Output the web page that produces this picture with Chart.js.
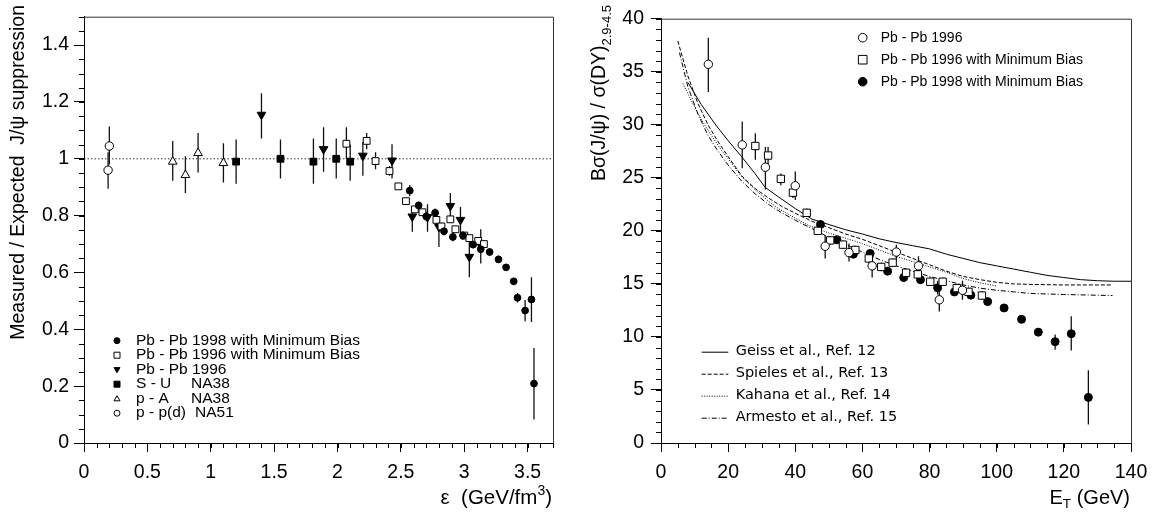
<!DOCTYPE html>
<html>
<head>
<meta charset="utf-8">
<script src="https://cdn.jsdelivr.net/npm/chart.js@4.4.0/dist/chart.umd.min.js"></script>
<style>
  html, body { margin: 0; padding: 0; background: #fff; }
  #wrap { display: flex; width: 1159px; height: 514px; }
  canvas { display: block; }
</style>
</head>
<body>
<div id="wrap">
  <canvas id="left" width="580" height="514"></canvas>
  <canvas id="right" width="579" height="514"></canvas>
</div>
<script>
// ---- left panel: measured / expected vs energy density ----
const ppX = [0.20, 0.19];
const ppY = [1.045, 0.96];
const ppLo = [0.98, 0.895];
const ppHi = [1.114, 1.023];

const pAX = [0.70, 0.80, 0.90, 1.10];
const pAY = [0.99, 0.943, 1.02, 0.985];
const pALo = [0.923, 0.88, 0.952, 0.917];
const pAHi = [1.063, 1.009, 1.091, 1.055];

const suX = [1.20, 1.55, 1.81, 1.99, 2.10];
const suY = [0.99, 1.0, 0.99, 1.0, 0.99];
const suLo = [0.912, 0.931, 0.912, 0.931, 0.923];
const suHi = [1.068, 1.068, 1.071, 1.071, 1.05];

const pb96X = [1.40, 1.89, 2.20, 2.43, 2.59, 2.71, 2.80, 2.89, 2.97, 3.04, 3.13];
const pb96Y = [1.155, 1.034, 1.011, 0.994, 0.797, 0.795, 0.76, 0.834, 0.785, 0.655, 0.695];
const pb96Lo = [1.071, 0.954, 0.94, 0.931, 0.743, 0.743, 0.69, 0.79, 0.725, 0.583, 0.632];
const pb96Hi = [1.231, 1.111, 1.06, 1.051, 0.82, 0.84, 0.79, 0.88, 0.83, 0.723, 0.752];

const mb96X = [2.07, 2.23, 2.30, 2.41, 2.48, 2.54, 2.61, 2.67, 2.78, 2.82, 2.89, 2.93, 3.00, 3.04, 3.11, 3.155];
const mb96Y = [1.053, 1.063, 0.992, 0.957, 0.903, 0.851, 0.822, 0.812, 0.785, 0.762, 0.787, 0.752, 0.73, 0.721, 0.711, 0.70];
const mb96Lo = [1.0, 1.034, 0.963, 0.94, 0.893, 0.841, 0.812, 0.802, 0.765, 0.75, 0.775, 0.742, 0.72, 0.71, 0.70, 0.69];
const mb96Hi = [1.111, 1.091, 1.023, 0.975, 0.913, 0.861, 0.832, 0.822, 0.805, 0.775, 0.80, 0.762, 0.74, 0.73, 0.72, 0.71];

const pb98X = [2.57, 2.64, 2.70, 2.77, 2.84, 2.91, 2.99, 3.07, 3.13, 3.20, 3.27, 3.33, 3.39, 3.42, 3.48, 3.53, 3.55];
const pb98Y = [0.888, 0.836, 0.797, 0.81, 0.745, 0.725, 0.73, 0.698, 0.682, 0.672, 0.646, 0.618, 0.569, 0.511, 0.466, 0.505, 0.209];
const pb98Lo = [0.868, 0.82, 0.78, 0.795, 0.73, 0.71, 0.715, 0.685, 0.67, 0.66, 0.635, 0.605, 0.555, 0.494, 0.428, 0.426, 0.083];
const pb98Hi = [0.908, 0.85, 0.815, 0.825, 0.76, 0.74, 0.745, 0.71, 0.695, 0.685, 0.66, 0.63, 0.58, 0.528, 0.503, 0.583, 0.334];

const refX = [0, 3.7];
const refY = [1, 1];

const leftNames = ["Pb - Pb 1998 with Minimum Bias", "Pb - Pb 1996 with Minimum Bias", "Pb - Pb 1996", "S - U", "p - A", "p - p(d)"];
const leftExp = ["", "", "", "NA38", "NA38", "NA51"];

// ---- right panel: B sigma(J/psi) / sigma(DY) vs E_T ----
const o96X = [14.1, 24.2, 31.1, 40.0, 48.9, 56.0, 62.9, 70.1, 76.7, 82.9, 89.8];
const o96Y = [35.7, 28.1, 26.0, 24.25, 18.55, 17.95, 16.7, 18.0, 16.7, 13.5, 14.4];
const o96Lo = [33.1, 25.9, 23.9, 22.9, 17.4, 17.1, 15.6, 17.2, 15.9, 12.4, 13.5];
const o96Hi = [38.2, 30.3, 27.9, 25.6, 19.6, 18.8, 17.6, 18.7, 17.6, 14.6, 15.3];

const s96X = [28.1, 31.9, 35.7, 39.3, 43.4, 46.7, 50.4, 54.2, 57.9, 61.9, 65.6, 69.0, 73.0, 76.5, 80.2, 83.9, 88.1, 91.6, 95.6];
const s96Y = [28.0, 27.1, 24.9, 23.6, 21.7, 20.0, 19.1, 18.7, 18.2, 17.4, 16.6, 17.0, 16.05, 15.9, 15.2, 15.2, 14.6, 14.25, 13.9];
const s96Lo = [26.7, 26.05, 24.3, 23.1, 21.3, 19.6, 18.7, 18.3, 17.8, 17.0, 16.2, 16.6, 15.65, 15.5, 14.8, 14.8, 14.2, 13.85, 13.5];
const s96Hi = [29.2, 27.9, 25.4, 24.1, 22.1, 20.4, 19.5, 19.1, 18.6, 17.8, 17.0, 17.4, 16.45, 16.3, 15.6, 15.6, 15.0, 14.65, 14.3];

const f98X = [47.5, 52.4, 57.3, 62.3, 67.5, 72.3, 77.3, 82.4, 87.4, 92.3, 97.3, 102.2, 107.4, 112.4, 117.4, 122.2, 127.3];
const f98Y = [20.6, 19.15, 17.8, 17.87, 16.2, 15.6, 15.4, 14.63, 14.24, 13.94, 13.33, 12.73, 11.66, 10.45, 9.55, 10.3, 4.3];
const f98Lo = [20.2, 18.8, 17.45, 17.5, 15.85, 15.25, 15.05, 14.0, 13.9, 13.6, 13.0, 12.4, 11.3, 10.1, 8.78, 8.73, 1.75];
const f98Hi = [21.0, 19.5, 18.15, 18.2, 16.55, 15.95, 15.75, 15.3, 14.6, 14.3, 13.65, 13.05, 12.0, 10.8, 10.24, 11.96, 6.87];

const geissX = [8, 12, 16.5, 20, 24, 28, 31, 35, 40, 45, 50, 55, 60, 65, 70, 75, 80, 85, 90, 95, 100, 105, 110, 115, 120, 125, 130, 135, 140];
const geissY = [34.0, 31.9, 29.9, 28.5, 27.0, 25.4, 24.1, 23.2, 22.1, 21.1, 20.6, 20.1, 19.7, 19.25, 18.9, 18.6, 18.3, 17.8, 17.4, 17.0, 16.7, 16.4, 16.1, 15.8, 15.6, 15.4, 15.3, 15.25, 15.25];

const spielesX = [5, 8, 11, 14, 17, 20, 24, 28, 32, 36, 41, 45, 50, 55, 60, 65, 70, 75, 80, 85, 90, 95, 100, 105, 110, 120, 134.5];
const spielesY = [37.9, 34.6, 32.0, 30.0, 28.4, 27.0, 25.2, 24.0, 23.1, 22.3, 21.5, 20.9, 20.3, 19.7, 19.2, 18.6, 18.0, 17.4, 16.8, 16.2, 15.7, 15.4, 15.15, 15.0, 14.95, 14.9, 14.9];

const kahanaX = [6.5, 9, 12, 15, 18, 21, 24, 28, 32, 35, 40, 44, 50, 55, 60, 65, 70, 75, 80, 85, 90, 95, 100];
const kahanaY = [33.9, 32.3, 30.5, 29.0, 27.6, 26.4, 25.1, 23.9, 22.8, 22.1, 21.2, 20.5, 19.8, 19.3, 18.8, 18.2, 17.6, 17.1, 16.6, 16.1, 15.5, 15.1, 14.8];

const armestoX = [5.5, 8, 11, 14, 17, 20, 24, 28, 32, 36, 40, 45, 50, 55, 60, 65, 70, 75, 80, 85, 90, 95, 100, 105, 110, 120, 134.5];
const armestoY = [36.8, 33.6, 31.0, 29.0, 27.5, 26.2, 24.7, 23.5, 22.5, 21.7, 21.0, 20.2, 19.4, 18.7, 18.0, 17.3, 16.7, 16.2, 15.7, 15.3, 14.9, 14.6, 14.4, 14.25, 14.1, 14.0, 13.9];

const rightMarkerNames = ["Pb - Pb 1996", "Pb - Pb 1996 with Minimum Bias", "Pb - Pb 1998 with Minimum Bias"];
const rightLineNames = ["Geiss et al., Ref. 12", "Spieles et al., Ref. 13", "Kahana et al., Ref. 14", "Armesto et al., Ref. 15"];

const FONT = "'Liberation Sans', Arial, sans-serif";
Chart.defaults.font.family = FONT;
Chart.defaults.color = "#000";
Chart.defaults.animation = false;

function pts(xs, ys) {
  return xs.map((x, i) => ({ x: x, y: ys[i] }));
}

function markers(label, xs, ys, lo, hi, style) {
  return Object.assign({
    label: label,
    data: pts(xs, ys),
    errLo: lo,
    errHi: hi,
    showLine: false,
    pointBorderColor: "#000",
    pointBorderWidth: 1
  }, style);
}

function curve(label, xs, ys, dash) {
  return {
    label: label,
    data: pts(xs, ys),
    showLine: true,
    borderColor: "#000",
    borderWidth: 1,
    borderDash: dash,
    pointRadius: 0,
    fill: false
  };
}

const S_FCIRC = { pointStyle: "circle", pointRadius: 3.6, pointBackgroundColor: "#000" };
const S_OCIRC = { pointStyle: "circle", pointRadius: 4.2, pointBackgroundColor: "#fff" };
const S_OSQ = { pointStyle: "rect", pointRadius: 5.2, pointBackgroundColor: "#fff" };
const S_FSQ = { pointStyle: "rect", pointRadius: 5.2, pointBackgroundColor: "#000" };
const S_OTRI = { pointStyle: "triangle", pointRadius: 5, pointBackgroundColor: "#fff" };
const S_DTRI = { pointStyle: "triangle", pointRotation: 180, pointRadius: 5, pointBackgroundColor: "#000" };

// error bars drawn through the scales, behind the markers
const errorBars = {
  id: "errorBars",
  beforeDatasetsDraw(chart) {
    const ctx = chart.ctx, a = chart.chartArea;
    const sx = chart.scales.x, sy = chart.scales.y;
    ctx.save();
    ctx.beginPath();
    ctx.rect(a.left, a.top, a.right - a.left, a.bottom - a.top);
    ctx.clip();
    ctx.strokeStyle = "#111";
    ctx.lineWidth = 1.3;
    chart.data.datasets.forEach(ds => {
      if (!ds.errLo) return;
      ds.data.forEach((p, i) => {
        const px = sx.getPixelForValue(p.x);
        ctx.beginPath();
        ctx.moveTo(px, sy.getPixelForValue(ds.errLo[i]));
        ctx.lineTo(px, sy.getPixelForValue(ds.errHi[i]));
        ctx.stroke();
      });
    });
    ctx.restore();
  }
};

// minor ticks + frame on top and right side
const frameTicks = {
  id: "frameTicks",
  afterDraw(chart, args, opts) {
    const ctx = chart.ctx, a = chart.chartArea;
    const sx = chart.scales.x, sy = chart.scales.y;
    ctx.save();
    ctx.strokeStyle = "#000";
    ctx.lineWidth = 1;
    const nx = Math.round((sx.max - sx.min) / opts.xStep);
    for (let i = 0; i <= nx; i++) {
      const p = Math.round(sx.getPixelForValue(sx.min + i * opts.xStep)) + 0.5;
      ctx.beginPath();
      ctx.moveTo(p, a.bottom);
      ctx.lineTo(p, a.bottom + opts.len);
      ctx.stroke();
    }
    const ny = Math.round((sy.max - sy.min) / opts.yStep);
    for (let i = 0; i <= ny; i++) {
      const p = Math.round(sy.getPixelForValue(sy.min + i * opts.yStep)) + 0.5;
      ctx.beginPath();
      ctx.moveTo(a.left - opts.len, p);
      ctx.lineTo(a.left, p);
      ctx.stroke();
    }
    ctx.strokeStyle = "#333";
    ctx.beginPath();
    ctx.moveTo(a.left, a.top + 0.5);
    ctx.lineTo(a.right + 0.5, a.top + 0.5);
    ctx.lineTo(a.right + 0.5, a.bottom);
    ctx.stroke();
    ctx.restore();
  }
};

// text made of pieces (for super/subscripts), right end anchored at (x, y)
function drawParts(ctx, parts, x, y, rotated) {
  ctx.save();
  ctx.translate(x, y);
  if (rotated) ctx.rotate(-Math.PI / 2);
  ctx.fillStyle = "#000";
  ctx.textBaseline = "middle";
  ctx.textAlign = "left";
  let w = 0;
  parts.forEach(p => {
    ctx.font = p.size + "px " + FONT;
    p.w = ctx.measureText(p.t).width;
    w += p.w;
  });
  let cx = -w;
  parts.forEach(p => {
    ctx.font = p.size + "px " + FONT;
    ctx.fillText(p.t, cx, p.dy || 0);
    cx += p.w;
  });
  ctx.restore();
}

function legendMarker(ctx, kind, x, y, r) {
  ctx.save();
  ctx.strokeStyle = "#000";
  ctx.lineWidth = 1;
  ctx.fillStyle = kind.indexOf("open") === 0 ? "#fff" : "#000";
  ctx.beginPath();
  if (kind.endsWith("circle")) {
    ctx.arc(x, y, r, 0, Math.PI * 2);
  } else if (kind.endsWith("square")) {
    ctx.rect(x - r, y - r, 2 * r, 2 * r);
  } else if (kind === "open-tri") {
    ctx.moveTo(x, y - r);
    ctx.lineTo(x + r, y + r * 0.7);
    ctx.lineTo(x - r, y + r * 0.7);
    ctx.closePath();
  } else {
    ctx.moveTo(x, y + r);
    ctx.lineTo(x + r, y - r * 0.7);
    ctx.lineTo(x - r, y - r * 0.7);
    ctx.closePath();
  }
  ctx.fill();
  ctx.stroke();
  ctx.restore();
}

function fmt(v) {
  return String(+v.toFixed(2));
}

function axisX(min, max, step, height) {
  return {
    type: "linear", min: min, max: max,
    afterFit: s => { s.height = height; },
    border: { display: true, color: "#000", width: 1 },
    grid: { drawOnChartArea: false, drawTicks: true, tickLength: 9, color: "#000" },
    ticks: { stepSize: step, includeBounds: false, padding: 9, autoSkip: false, maxRotation: 0,
             font: { size: 19.5 }, color: "#000", callback: fmt }
  };
}

function axisY(min, max, step, width, pad) {
  return {
    type: "linear", min: min, max: max,
    afterFit: s => { s.width = width; },
    border: { display: true, color: "#000", width: 1 },
    grid: { drawOnChartArea: false, drawTicks: true, tickLength: 10, color: "#000" },
    ticks: { stepSize: step, includeBounds: false, padding: pad, autoSkip: false,
             font: { size: 19.5 }, color: "#000", callback: fmt }
  };
}

// ---------------- left chart ----------------
const leftDecor = {
  id: "leftDecor",
  afterDraw(chart) {
    const ctx = chart.ctx;
    drawParts(ctx, [{ t: "Measured / Expected  J/\u03c8 suppression", size: 19.5 }], 19, 5, true);
    drawParts(ctx, [
      { t: "\u03b5  (GeV/fm", size: 20.5 },
      { t: "3", size: 14, dy: -7 },
      { t: ")", size: 20.5 }
    ], 552, 498, false);
    const kinds = ["fill-circle", "open-square", "fill-dtri", "fill-square", "open-tri", "open-circle"];
    ctx.save();
    ctx.font = "15.5px " + FONT;
    ctx.fillStyle = "#000";
    ctx.textBaseline = "middle";
    leftNames.forEach((name, i) => {
      const y = 340.7 + i * 14.5;
      legendMarker(ctx, kinds[i], 117, y, 3);
      ctx.fillText(name, 136, y);
      if (leftExp[i]) ctx.fillText(leftExp[i], i === 5 ? 195 : 191, y);
    });
    ctx.restore();
  }
};

new Chart(document.getElementById("left"), {
  type: "scatter",
  data: {
    datasets: [
      markers("Pb - Pb 1998 with Minimum Bias", pb98X, pb98Y, pb98Lo, pb98Hi, Object.assign({}, S_FCIRC, { pointRadius: 3.4 })),
      markers("Pb - Pb 1996 with Minimum Bias", mb96X, mb96Y, mb96Lo, mb96Hi, Object.assign({}, S_OSQ, { pointRadius: 4.8 })),
      markers("Pb - Pb 1996", pb96X, pb96Y, pb96Lo, pb96Hi, S_DTRI),
      markers("S - U  NA38", suX, suY, suLo, suHi, Object.assign({}, S_FSQ, { pointRadius: 4.8 })),
      markers("p - A  NA38", pAX, pAY, pALo, pAHi, S_OTRI),
      markers("p - p(d)  NA51", ppX, ppY, ppLo, ppHi, S_OCIRC),
      Object.assign(curve("expected", refX, refY, [1.5, 2]), { borderColor: "#333" })
    ]
  },
  options: {
    responsive: false,
    events: [],
    layout: { padding: { left: 0, top: 5, right: 27, bottom: 0 } },
    scales: {
      x: axisX(0, 3.7, 0.5, 71),
      y: axisY(0, 1.5, 0.2, 84, 5)
    },
    plugins: {
      legend: { display: false },
      tooltip: { enabled: false },
      frameTicks: { xStep: 0.1, yStep: 0.05, len: 5 }
    }
  },
  plugins: [errorBars, frameTicks, leftDecor]
});

// ---------------- right chart ----------------
const rightDecor = {
  id: "rightDecor",
  afterDraw(chart) {
    const ctx = chart.ctx;
    drawParts(ctx, [
      { t: "B\u03c3(J/\u03c8) / \u03c3(DY)", size: 19.5 },
      { t: "2.9-4.5", size: 13, dy: 7 }
    ], 20, 5, true);
    drawParts(ctx, [
      { t: "E", size: 20 },
      { t: "T", size: 13.5, dy: 6 },
      { t: " (GeV)", size: 20 }
    ], 550, 498, false);

    ctx.save();
    ctx.fillStyle = "#000";
    ctx.textBaseline = "middle";
    ctx.font = "14px " + FONT;
    const kinds = ["open-circle", "open-square", "fill-circle"];
    rightMarkerNames.forEach((name, i) => {
      const y = 37.7 + i * 22;
      legendMarker(ctx, kinds[i], 282.7, y, 4.3);
      ctx.fillText(name, 300.7, y);
    });
    const dashes = [[], [4, 2], [1, 1.5], [5, 2, 1, 2]];
    ctx.font = "14.5px 'DejaVu Sans', sans-serif";
    rightLineNames.forEach((name, i) => {
      const y = 351.7 + i * 22;
      ctx.save();
      ctx.strokeStyle = "#000";
      ctx.lineWidth = 1;
      ctx.setLineDash(dashes[i]);
      ctx.beginPath();
      ctx.moveTo(121.7, y + 0.5);
      ctx.lineTo(148.3, y + 0.5);
      ctx.stroke();
      ctx.restore();
      ctx.fillText(name, 155.7, y);
    });
    ctx.restore();
  }
};

new Chart(document.getElementById("right"), {
  type: "scatter",
  data: {
    datasets: [
      markers("Pb - Pb 1996", o96X, o96Y, o96Lo, o96Hi, S_OCIRC),
      markers("Pb - Pb 1996 with Minimum Bias", s96X, s96Y, s96Lo, s96Hi, S_OSQ),
      markers("Pb - Pb 1998 with Minimum Bias", f98X, f98Y, f98Lo, f98Hi, Object.assign({}, S_FCIRC, { pointRadius: 4 })),
      curve("Geiss et al., Ref. 12", geissX, geissY, []),
      curve("Spieles et al., Ref. 13", spielesX, spielesY, [4, 2]),
      curve("Kahana et al., Ref. 14", kahanaX, kahanaY, [1, 1.5]),
      curve("Armesto et al., Ref. 15", armestoX, armestoY, [5, 2, 1, 2])
    ]
  },
  options: {
    responsive: false,
    events: [],
    layout: { padding: { left: 0, top: 4, right: 28, bottom: 0 } },
    scales: {
      x: axisX(0, 140, 20, 71),
      y: axisY(0, 40, 5, 81, 7)
    },
    plugins: {
      legend: { display: false },
      tooltip: { enabled: false },
      frameTicks: { xStep: 5, yStep: 1, len: 5 }
    }
  },
  plugins: [errorBars, frameTicks, rightDecor]
});
</script>
</body>
</html>
